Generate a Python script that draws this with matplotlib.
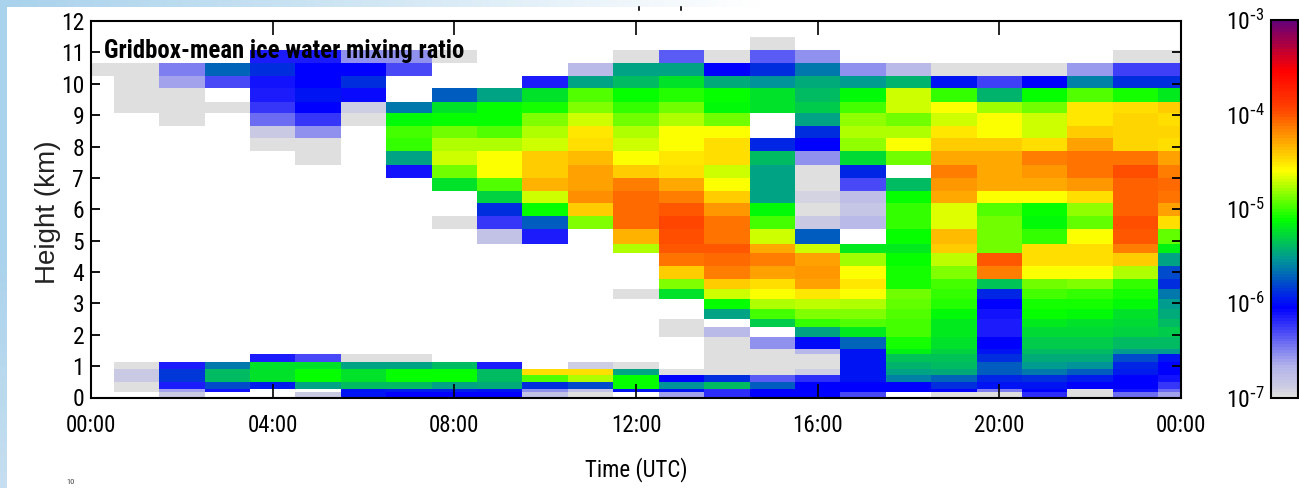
import matplotlib
matplotlib.use("Agg")
import matplotlib.pyplot as plt
import numpy as np
from matplotlib.colors import LinearSegmentedColormap, LogNorm
from matplotlib.lines import Line2D

n = np.nan

# hours of the columns, first and last are half width
time_edges = [0, 0.5] + [h + 0.5 for h in range(1, 24)] + [24]

# level edges in km, top to bottom
height_edges = [11.48, 11.07, 10.65, 10.24, 9.86, 9.41, 9.06, 8.65, 8.26, 7.85, 7.40, 6.99,
                6.58, 6.19, 5.78, 5.37, 4.89, 4.60, 4.19, 3.77, 3.46, 3.14, 2.82, 2.50,
                2.25, 1.93, 1.54, 1.39, 1.13, 0.91, 0.72, 0.49, 0.27, 0.18, 0]

# log10 of the mixing ratio per hour, top level first
h00 = [n, n, -7] + [n] * 31
h01 = [n, n, -7, -7, -7, -7] + [n] * 22 + [-7, -6.85, -6.85, -7, -7, n]
h02 = [n, n, -6.5, -6.6, -7, -7, -7] + [n] * 21 + [-6.15, -5.85, -5.85, -6.15, -6.6, -6.85]
h03 = [n, n, -5.7, -6.3, n, -7] + [n] * 22 + [-5.65, -5.4, -5.4, -5.8, -6.1, n]
h04 = [n, -6.15, -5.9, -6.12, -6.15, -6.22, -6.42, -6.85, -7] + [n] * 18 + [-6.15, -5.25, -5.25, -5.25, -5.95, n, n]
h05 = [n, -6.15, -6.05, -6.05, -5.97, -6.05, -6.25, -6.55, -7, -7] + [n] * 17 + [-6.3, -5.25, -5.1, -5.1, -5.5, n, -6.85]
h06 = [n, -6.55, -6.05, -5.88, -6.08, -6.9, -7] + [n] * 20 + [-7, -5.5, -5.25, -5.25, -5.4, -6.0, -6.0]
h07 = [n, -6.55, -6.3, n, n, -5.65, -5.15, -5.0, -5.02, -5.47, -6.1] + [n] * 16 + [-7, -5.5, -5.1, -5.1, -5.4, -5.95, -6.05]
h08 = [n, -7, n, n, -5.75, -5.25, -5.1, -4.9, -4.78, -4.7, -4.9, -5.25, n, n, -7] + [n] * 13 + [-5.4, -5.1, -5.1, -5.5, -5.95, -6.05]
h09 = [n, n, n, n, -5.5, -5.1, -5.1, -4.95, -4.78, -4.6, -4.6, -4.95, -5.3, -5.88, -6.22, -6.8] + [n] * 12 + [-6.15, -5.4, -5.4, -5.45, -5.97, -6.05]
h10 = [n, n, n, -6.15, -5.25, -5.07, -4.87, -4.78, -4.7, -4.42, -4.43, -4.32, -4.7, -5.1, -5.75, -6.15] + [n] * 13 + [-4.5, -4.95, -5.9, -6.55, -6.8]
h11 = [n, n, -6.75, -5.5, -4.95, -4.85, -4.7, -4.52, -4.48, -4.37, -4.27, -4.27, -4.2, -4.43, -4.87] + [n] * 13 + [-6.9, -4.5, -4.78, -5.8, -6.8, -7]
h12 = [n, -7, -5.5, -5.4, -5.1, -5.02, -4.9, -4.78, -4.7, -4.6, -4.43, -4.15, -4.08, -4.08, -4.08, -4.32, -4.78] + [n, n, n, -7] + [n] * 7 + [-7, -5.5, -5.1, -5.1, -6.0, n]
h13 = [n, -6.35, -5.5, -5.25, -5.05, -4.9, -4.78, -4.6, -4.6, -4.52, -4.47, -4.3, -4.15, -4.02, -3.95, -3.98, -4.03, -4.1, -4.42, -4.85, -5.22] + [n, n, -7, -7] + [n] * 4 + [-7, -6.05, -5.55, -6.0, -6.6]
h14 = [n, -7, -6.05, -5.45, -5.12, -5.15, -4.9, -4.6, -4.5, -4.5, -4.7, -4.6, -4.43, -4.25, -4.12, -4.1, -4.03, -4.08, -4.15, -4.42, -4.7, -5.1, -5.5, n, -6.75, -7, -7, -7, -7, -7, -5.9, -5.4, -6.2, -6.2]
h15 = [-7, -6.35, -5.88, -5.55, -5.22, -5.22, n, n, -5.92, -5.4, -5.5, -5.5, -5.48, -5.15, -5.0, -4.7, -4.3, -4.15, -4.28, -4.5, -4.6, -4.78, -5.0, -5.33, n, -6.55, -7, -7, -7, -7, -6.35, -5.75, -6.05, -6.05]
h16 = [n, -6.55, -5.65, -5.45, -5.38, -5.33, -5.48, -5.88, -6.05, -6.55, -7, -7, -6.92, -7, -6.85, -5.75, -4.7, -4.27, -4.25, -4.27, -4.52, -4.72, -4.85, -5.02, -5.48, -6.02, -6.7, -7, -7, -6.9, -6.2, -6.05, -6.05, -6.05]
h17 = [n, n, -6.55, -5.52, -5.15, -5.0, -4.82, -4.76, -4.84, -5.28, -5.92, -6.3, -6.78, -6.83, -6.72, n, -5.2, -4.8, -4.6, -4.52, -4.6, -4.78, -4.85, -4.95, -5.2, -5.7, -6.0, -5.97, -5.97, -5.98, -6.0, -6.05, -6.05, -6.3]
h18 = [n, n, -6.75, -5.42, -4.7, -4.7, -4.88, -4.78, -4.6, -4.9, n, -5.38, -5.1, -5.02, -5.02, -5.1, -5.2, -5.12, -5.08, -5.07, -4.9, -4.92, -4.95, -5.0, -5.0, -5.07, -5.18, -5.36, -5.42, -5.5, -5.6, -6.05, -6.05, n]
h19 = [n, n, -7, -5.97, -5.02, -4.6, -4.7, -4.52, -4.42, -4.3, -4.15, -4.25, -4.3, -4.68, -4.68, -4.37, -4.42, -4.72, -4.85, -4.97, -5.02, -5.04, -5.14, -5.2, -5.2, -5.22, -5.3, -5.36, -5.4, -5.45, -5.7, -5.9, -6.05, -7]
h20 = [n, n, -7, -6.28, -5.42, -4.8, -4.6, -4.6, -4.42, -4.3, -4.3, -4.3, -4.6, -4.95, -4.9, -4.9, -4.9, -4.02, -4.15, -5.37, -5.93, -6.05, -6.1, -6.15, -6.15, -6.05, -5.97, -5.9, -5.75, -5.75, -5.92, -6.0, -6.5, -7]
h21 = [n, n, -7, -6.05, -5.1, -4.88, -4.7, -4.7, -4.5, -4.15, -4.23, -4.3, -4.6, -5.1, -5.13, -5.02, -4.5, -4.5, -4.6, -4.88, -5.0, -5.08, -5.1, -5.2, -5.28, -5.33, -5.38, -5.45, -5.52, -5.65, -5.9, -6.0, -6.05, -6.2]
h22 = [n, n, -6.58, -5.6, -4.95, -4.52, -4.52, -4.42, -4.27, -4.12, -4.1, -4.23, -4.48, -4.82, -4.93, -4.6, -4.48, -4.5, -4.6, -4.85, -5.03, -5.08, -5.14, -5.22, -5.27, -5.33, -5.38, -5.45, -5.55, -5.75, -5.95, -6.05, -7, -7]
h23 = [n, -7, -6.28, -5.88, -5.08, -4.5, -4.45, -4.45, -4.45, -4.12, -3.98, -4.05, -4.05, -4.05, -3.98, -4.03, -4.15, -4.43, -4.78, -5.03, -5.08, -5.14, -5.24, -5.27, -5.3, -5.38, -5.52, -5.8, -5.93, -5.95, -6.05, -6.05, -6.12, -6.42]
h24 = [n, -7, -6.28, -5.88, -5.2, -4.43, -4.5, -4.45, -4.5, -4.27, -4.15, -4.08, -4.12, -4.28, -4.48, -4.93, -5.17, -5.48, -5.8, -5.88, -5.65, -5.52, -5.45, -5.4, -5.33, -5.38, -5.52, -6.0, -6.05, -6.05, -6.1, -6.25, -6.42, -6.62]

columns = [h00, h01, h02, h03, h04, h05, h06, h07, h08, h09, h10, h11, h12,
           h13, h14, h15, h16, h17, h18, h19, h20, h21, h22, h23, h24]

x_ticks = [0, 4, 8, 12, 16, 20, 24]
x_labels = ["00:00", "04:00", "08:00", "12:00", "16:00", "20:00", "00:00"]
y_ticks = list(range(13))
bar_ticks = [1e-7, 1e-6, 1e-5, 1e-4, 1e-3]
bar_labels = ["10$^{\\text{-}7}$", "10$^{\\text{-}6}$", "10$^{\\text{-}5}$", "10$^{\\text{-}4}$", "10$^{\\text{-}3}$"]

W, H = 1299, 488

plt.rcParams["font.family"] = ["Roboto Condensed", "Liberation Sans", "DejaVu Sans"]
plt.rcParams["mathtext.default"] = "regular"

# colour scale, position from bottom to top
cmap = LinearSegmentedColormap.from_list("cloudnet", [
    (0.0, (0.875, 0.875, 0.875)),
    (0.025, (0.80, 0.80, 0.89)),
    (0.08, (0.70, 0.70, 0.92)),
    (0.236, (0, 0, 1)),
    (0.365, (0, 0.59, 0.59)),
    (0.47, (0, 1, 0)),
    (0.60, (1, 1, 0)),
    (0.7125, (1, 0.51, 0)),
    (0.7625, (1, 0.275, 0)),
    (0.867, (1, 0, 0)),
    (1.0, (0.40, 0, 0.47)),
], N=128)
cmap.set_bad((1, 1, 1, 0))


def px_axes(x0, y0, x1, y1):
    return fig.add_axes([x0 / W, 1 - y1 / H, (x1 - x0) / W, (y1 - y0) / H])


fig = plt.figure(figsize=(W / 100, H / 100), dpi=100, facecolor="white")

# slide background, blue bands at the left and top
strip = px_axes(0, 0, 7, H)
strip.imshow(np.linspace(0, 1, 64)[:, None], aspect="auto",
             cmap=LinearSegmentedColormap.from_list("strip", ["#a9d2ec", "#a9d2ec", "#c6deef"]))
strip.axis("off")
band = px_axes(0, 0, 760, 7)
band.imshow(np.linspace(0, 1, 256)[None, :], aspect="auto",
            cmap=LinearSegmentedColormap.from_list("band", ["#a9d2ec", "#d2e7f4", "#ffffff"]))
band.axis("off")

ax = px_axes(91, 21, 1181, 397.5)
values = 10.0 ** np.array(columns).T
mesh = ax.pcolormesh(time_edges, height_edges, values, cmap=cmap,
                     norm=LogNorm(vmin=1e-7, vmax=1e-3), shading="flat")
ax.set_xlim(0, 24)
ax.set_ylim(0, 12)
ax.set_xticks(x_ticks, x_labels, fontsize=16.5)
ax.set_yticks(y_ticks)
ax.tick_params(axis="x", direction="in", length=10, width=1.2, top=True, pad=12)
ax.tick_params(axis="y", direction="in", length=6.5, width=1.3, right=True, pad=5, labelsize=17)
for s in ax.spines.values():
    s.set_linewidth(1.5)
ax.set_xlabel("Time (UTC)", fontsize=16.5, va="center")
ax.xaxis.set_label_coords(0.5, -0.1926)
ax.set_ylabel("Height (km)", fontsize=20, family=["Liberation Sans", "DejaVu Sans"],
              va="center", color="#222222")
ax.yaxis.set_label_coords(-0.039, 0.493)
ax.text(0.0119, 0.9215, "Gridbox-mean ice water mixing ratio", transform=ax.transAxes,
        fontsize=17.8, fontweight="bold", color="black", ha="left", va="center")

cax = px_axes(1271, 20, 1298, 397.5)
bar = fig.colorbar(mesh, cax=cax)
bar.set_ticks(bar_ticks, labels=bar_labels)
bar.minorticks_off()
cax.yaxis.set_ticks_position("left")
cax.tick_params(axis="y", length=0, pad=4.5, labelsize=17)
bar.outline.set_linewidth(1.5)

# specks and the small number left over from the slide
for x in (639, 681):
    fig.add_artist(Line2D([x / W, x / W], [1 - 7 / H, 1 - 10 / H], color="black", lw=1.2))
fig.text(66 / W, 1 - 479 / H, "10", fontsize=6, va="top", color="#444444")

fig.savefig("out.png", dpi=100)
